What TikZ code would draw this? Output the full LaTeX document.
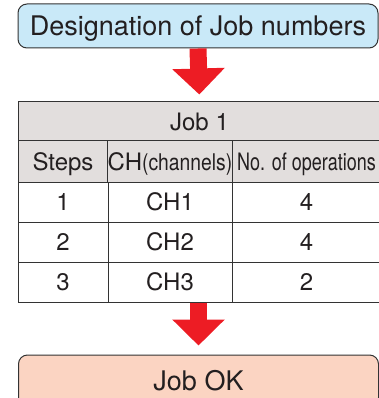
\documentclass[tikz,border=0pt]{standalone}
\usepackage{fontspec}
\setmainfont{TeX Gyre Heros}
\usepackage{graphicx}
\usetikzlibrary{arrows.meta}
\definecolor{boxblue}{HTML}{C9E9F8}
\definecolor{boxpeach}{HTML}{FBD4C2}
\definecolor{headgray}{HTML}{E2DEDD}
\definecolor{arrowred}{HTML}{ED1C24}
\definecolor{edge}{HTML}{333333}
\definecolor{ink}{HTML}{231F20}
\tikzstyle{stage}=[draw=edge,line width=1pt,rounded corners=9pt,minimum width=360pt,inner sep=0pt,text=ink,text height=19pt,text depth=0pt,font=\fontsize{27}{30}\selectfont]
\tikzstyle{cell}=[draw=edge,line width=1pt,inner sep=0pt,text=ink,text height=17.3pt,text depth=0pt,font=\fontsize{24}{26}\selectfont]
\tikzstyle{flow}=[arrowred,line width=17pt,-{Triangle[length=26pt,width=51pt]}]
\newcommand{\narrow}[2]{\scalebox{#1}[1]{#2}}

\begin{document}
\begin{tikzpicture}[x=1pt,y=-1pt]
                  \useasboundingbox (0,0) rectangle (379,398);

                  \node (jobsel) at (198,26) [stage,fill=boxblue,minimum height=44pt] {Designation of Job numbers};

                  \node (job) at (199.5,121.5) [cell,fill=headgray,minimum width=363pt,minimum height=39pt] {Job 1};
                  \node (s0) at (63,161.5) [cell,fill=headgray,minimum width=90pt,minimum height=41pt] {Steps};
                  \node (c0) at (170,161.5) [cell,fill=headgray,minimum width=124pt,minimum height=41pt] {CH\narrow{0.84}{\fontsize{23}{25}\selectfont(channels)}};
                  \node (n0) at (306.5,161.5) [cell,fill=headgray,minimum width=149pt,minimum height=41pt] {\narrow{0.75}{No. of operations}};

                  \foreach \i/\n in {1/4,2/4,3/2} {
                    \node (s\i) at (63,162+40*\i) [cell,minimum width=90pt,minimum height=40pt] {\i};
                    \node (c\i) at (170,162+40*\i) [cell,minimum width=124pt,minimum height=40pt] {CH\i};
                    \node (n\i) at (306.5,162+40*\i) [cell,minimum width=149pt,minimum height=40pt] {\n};
                  }

                  \node (ok) at (198.5,381) [stage,fill=boxpeach,minimum height=52pt] {Job OK};

                  \draw [flow,shorten >=7pt] (jobsel.south) -- (job.north);
                  \draw [flow,shorten >=9pt] (ok.north |- c3.south) -- (ok.north);
              \end{tikzpicture}
\end{document}
